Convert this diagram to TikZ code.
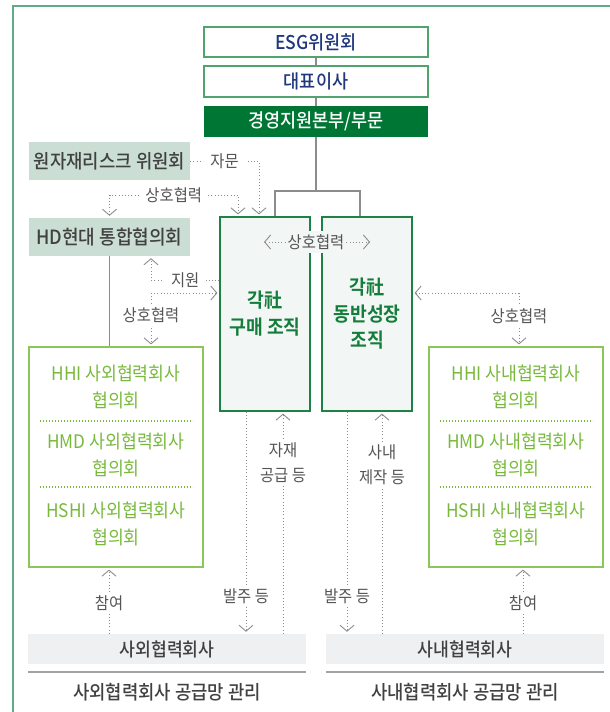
\documentclass[tikz,border=0pt]{standalone}
\usepackage{fontspec}
\setmainfont{Noto Sans CJK KR}[BoldFont=* Medium, FakeStretch=0.92]
\newfontfamily\hvfont{Noto Sans CJK KR Bold}[FakeStretch=0.92]
\usetikzlibrary{arrows.meta}
\definecolor{frmg}{RGB}{96,172,132}
\definecolor{topg}{RGB}{80,165,110}
\definecolor{navyt}{RGB}{30,55,125}
\definecolor{mgg}{RGB}{0,118,52}
\definecolor{ggf}{RGB}{202,222,212}
\definecolor{dtxt}{RGB}{65,65,65}
\definecolor{orgb}{RGB}{30,130,70}
\definecolor{orgf}{RGB}{242,246,244}
\definecolor{orgt}{RGB}{20,125,60}
\definecolor{cnlb}{RGB}{140,198,90}
\definecolor{cnlt}{RGB}{120,185,60}
\definecolor{barf}{RGB}{239,240,242}
\definecolor{lgray}{RGB}{140,140,140}
\definecolor{ltxt}{RGB}{85,85,85}
\def\fsTop{\fontsize{19}{22}\selectfont}
\def\fsRisk{\fontsize{19.3}{22}\selectfont}
\def\fsBox{\fontsize{19.8}{27}\selectfont}
\def\fsCnl{\fontsize{18.7}{27}\selectfont}
\def\fsLbl{\fontsize{16.7}{25}\selectfont}
\def\fsBar{\fontsize{18.7}{20}\selectfont}
\def\fsTtl{\fontsize{19.3}{22}\selectfont}
\tikzset{
  topbox/.style={draw=topg, line width=1.2pt, fill=white, text=navyt,
                 font=\fsTop\bfseries, minimum width=224pt, minimum height=30pt, inner sep=2pt},
  mgbox/.style={fill=mgg, text=white, font=\fsTop\bfseries,
                minimum width=224pt, minimum height=31pt, inner sep=2pt},
  gbox/.style={fill=ggf, text=dtxt, font=\fsRisk\bfseries,
               minimum width=161pt, minimum height=38pt, inner sep=1pt},
  obox/.style={draw=orgb, line width=1.2pt, fill=orgf, text=orgt, font=\fsBox\hvfont,
               align=center, minimum width=90pt, minimum height=194pt, inner sep=2pt},
  cbox/.style={draw=cnlb, line width=1.2pt, minimum width=174pt, minimum height=220pt},
  ctxt/.style={text=cnlt, font=\fsCnl, align=center, inner sep=1pt},
  csep/.style={draw=cnlt, line width=1.2pt, dash pattern=on 1pt off 2pt},
  bar/.style={fill=barf, text=dtxt, font=\fsBar\bfseries,
              minimum width=278pt, minimum height=30pt, inner sep=2pt},
  ttl/.style={text=dtxt, font=\fsTtl\bfseries, inner sep=1pt},
  ln/.style={draw=lgray, line width=1.1pt},
  uln/.style={draw=lgray!80, line width=1.6pt},
  lbl/.style={fill=white, text=ltxt, font=\fsLbl, align=center, inner sep=3pt},
  vtip/.tip={Straight Barb[length=6pt, width=14pt, line width=0.9pt]},
  dar/.style={draw=lgray, line width=1pt, dash pattern=on 1pt off 2.2pt, -vtip, shorten >=2pt},
  dar2/.style={dar, vtip-vtip, shorten <=2pt},
  frm/.style={draw=frmg, line width=1.6pt},
}

\begin{document}
\begin{tikzpicture}[x=1pt, y=-1pt]
\useasboundingbox (0,0) rectangle (610,712);
\draw[frm] (13,712) -- (13,6) -- (610,6);

%% ============================================================
%% TOP CHAIN
%% ============================================================
\node[topbox] (esg) at (316, 42) {ESG위원회};
\node[topbox, minimum height=31pt] (ceo) at (316, 81.5) {대표이사};
\node[mgbox] (mgmt) at (316, 121.5) {경영지원본부/부문};

\draw[ln] (esg) -- (ceo);
\draw[ln] (ceo) -- (mgmt);

%% --- left committees
\node[gbox] (risk) at (109.5, 161) {원자재리스크 위원회};
\node[gbox, font=\fontsize{19.6}{22}\selectfont\bfseries] (hdc) at (109.5, 237) {HD현대 통합협의회};

%% --- the two organisations
\node[obox] (buy)  at (265, 314) {각社\\구매 조직};
\node[obox, font=\fontsize{19.8}{26.5}\selectfont\hvfont] (grow) at (367, 314) {각社\\동반성장\\조직};

\coordinate (jn) at (316, 191);
\draw[ln] (mgmt.south) -- (jn);
\draw[ln] ([xshift=10pt]buy.north) |- (jn) -| ([xshift=-7pt]grow.north);

%% mutual label between the two boxes
\node[lbl, fill=orgf, inner xsep=2pt] (mutual) at (316, 242) {상호협력};
\coordinate (cL) at (262, 242);
\coordinate (cR) at (372, 242);
\draw[dar] (mutual) -- (cL);
\draw[dar] (mutual) -- (cR);

%% --- advice / cooperation / support
\coordinate (c1) at (259, 161);
\draw[dar] (risk) -- node[lbl, inner xsep=9pt]{자문} (c1) -- (c1 |- buy.north);

\coordinate (c2) at (238, 195);
\draw[dar2] (hdc.north) |- node[lbl, pos=0.75, inner xsep=4pt]{상호협력} (c2) -- (c2 |- buy.north);

\coordinate (c3) at (151, 280);
\draw[dar] (buy.west |- c3) -- node[lbl, inner xsep=7pt]{지원} (c3) -- (c3 |- hdc.south);

%% ============================================================
%% COUNCILS
%% ============================================================
\node[cbox] (outc) at (116, 457) {};
\node[ctxt] (hhiO)  at (116, 386.5) {HHI 사외협력회사\\협의회};
\node[ctxt] (hmdO)  at (116, 455) {HMD 사외협력회사\\협의회};
\node[ctxt] (hshiO) at (116, 524) {HSHI 사외협력회사\\협의회};
\draw[csep] (40, 421) -- (193, 421);
\draw[csep] (40, 487) -- (193, 487);

\node[cbox] (inc) at (516, 457) {};
\node[ctxt] (hhiI)  at (516, 386.5) {HHI 사내협력회사\\협의회};
\node[ctxt] (hmdI)  at (516, 455) {HMD 사내협력회사\\협의회};
\node[ctxt] (hshiI) at (516, 524) {HSHI 사내협력회사\\협의회};
\draw[csep] (440, 421) -- (593, 421);
\draw[csep] (440, 487) -- (593, 487);

\draw[ln] (hdc.south) -- (hdc.south |- outc.north);

\coordinate (c4) at (151, 293);
\draw[dar] (c4) -- (c4 -| buy.west);
\draw[dar] (c4) -- node[lbl, pos=0.41]{상호협력} (c4 |- outc.north);

\coordinate (c7) at (519, 293);
\draw[dar] (c7) -- (c7 -| grow.east);
\draw[dar] (c7) -- node[lbl, pos=0.43]{상호협력} (c7 |- inc.north);

%% ============================================================
%% SUPPLIERS
%% ============================================================
\node[bar] (outbar) at (167, 649) {사외협력회사};
\node[bar] (inbar)  at (465, 649) {사내협력회사};
\draw[uln] ([yshift=-8pt]outbar.south west) -- ([yshift=-8pt]outbar.south east);
\draw[uln] ([yshift=-8pt]inbar.south west) -- ([yshift=-8pt]inbar.south east);
\node[ttl] (outttl) at (167, 692) {사외협력회사 공급망 관리};
\node[ttl] (inttl)  at (465, 692) {사내협력회사 공급망 관리};

%% orders and supplies
\draw[dar] ([xshift=-19pt]buy.south) -- node[lbl, pos=0.83]{발주 등} ([xshift=-19pt]buy.south |- outbar.north);
\draw[dar] ([xshift=18pt]buy.south |- outbar.north) -- node[lbl, pos=0.77]{자재\\공급 등} ([xshift=18pt]buy.south);
\draw[dar] ([xshift=-20pt]grow.south) -- node[lbl, pos=0.83]{발주 등} ([xshift=-20pt]grow.south |- inbar.north);
\draw[dar] ([xshift=15pt]grow.south |- inbar.north) -- node[lbl, pos=0.76]{사내\\제작 등} ([xshift=15pt]grow.south);

%% participation
\draw[dar] ([xshift=-7pt]outc.south |- outbar.north) -- node[lbl, pos=0.46]{참여} ([xshift=-7pt]outc.south);
\draw[dar] ([xshift=7pt]inc.south |- inbar.north) -- node[lbl, pos=0.46]{참여} ([xshift=7pt]inc.south);

\end{tikzpicture}
\end{document}
